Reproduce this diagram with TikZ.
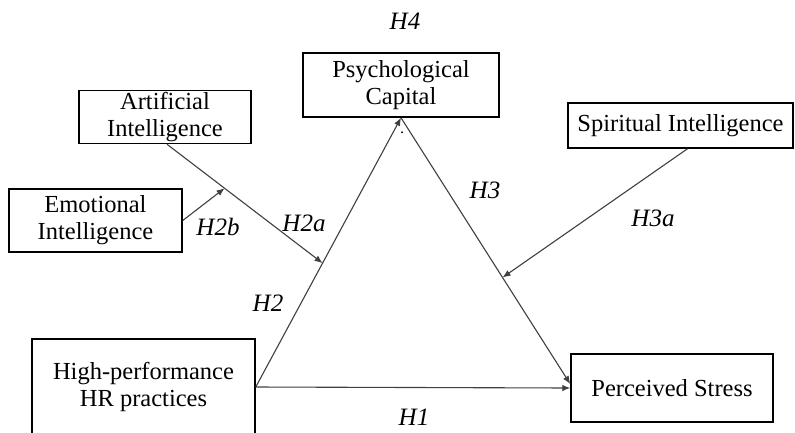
\documentclass[tikz,border=0pt]{standalone}
\usepackage{fontspec}
\setmainfont{Liberation Serif}
\usetikzlibrary{calc,arrows.meta}
\begin{document}
\begin{tikzpicture}[x=1pt,y=-1pt,
  box/.style={draw=black,line width=1.5pt,inner sep=0pt,align=center,font=\fontsize{24.5}{27}\selectfont},
  hyp/.style={font=\fontsize{25}{29}\selectfont\itshape,inner sep=0pt},
  conn/.style={draw=black!75,line width=1.1pt},
  arr/.style={conn,-{Latex[length=8pt,width=6.5pt]}}]
\useasboundingbox[fill=white] (0,0) rectangle (795,432);
\node[box,minimum width=172pt,minimum height=53pt] (ai) at (165,117) {Artificial\\Intelligence};
\node[box,minimum width=173pt,minimum height=63pt] (ei) at (95.5,220.5) {Emotional\\Intelligence};
\node[box,minimum width=196pt,minimum height=64pt] (pc) at (401,85) {Psychological\\Capital};
\node[box,minimum width=225pt,minimum height=45pt] (si) at (680.5,125.5) {Spiritual Intelligence};
\node[box,minimum width=223pt,minimum height=96pt] (hrp) at (143.5,387) {High-performance\\HR practices};
\node[box,minimum width=202pt,minimum height=68pt] (ps) at (672,388) {Perceived Stress};
% connectors
\coordinate (psin) at ($(ps.west)+(0,-4)$);
\draw[arr] (hrp.east) -- (pc.south);
\draw[arr] (hrp.east) -- (ps.west);
\draw[arr] (pc.south) -- (psin);
\coordinate (m2) at ($(hrp.east)!0.46!(pc.south)$);
\coordinate (m3) at ($(pc.south)!0.60!(psin)$);
\coordinate (aistart) at ($(ai.south)+(2,0)$);
\draw[arr] (aistart) -- (m2);
\coordinate (m1) at ($(aistart)!0.37!(m2)$);
\draw[arr] (ei.east) -- (m1);
\coordinate (sistart) at ($(si.south)+(7,0)$);
\draw[arr] (sistart) -- (m3);
% labels
\node[hyp] (h4) at (405,21) {H4};
\node[hyp] (h3) at (485,190) {H3};
\node[hyp] (h3a) at (653,218) {H3a};
\node[hyp] (h2a) at (304,223) {H2a};
\node[hyp] (h2b) at (218,227) {H2b};
\node[hyp] (h2) at (268,303) {H2};
\node[hyp] (h1) at (414,417) {H1};
\node[inner sep=0pt,font=\fontsize{16}{16}\selectfont] (dot) at (402,133) {.};
\end{tikzpicture}
\end{document}
